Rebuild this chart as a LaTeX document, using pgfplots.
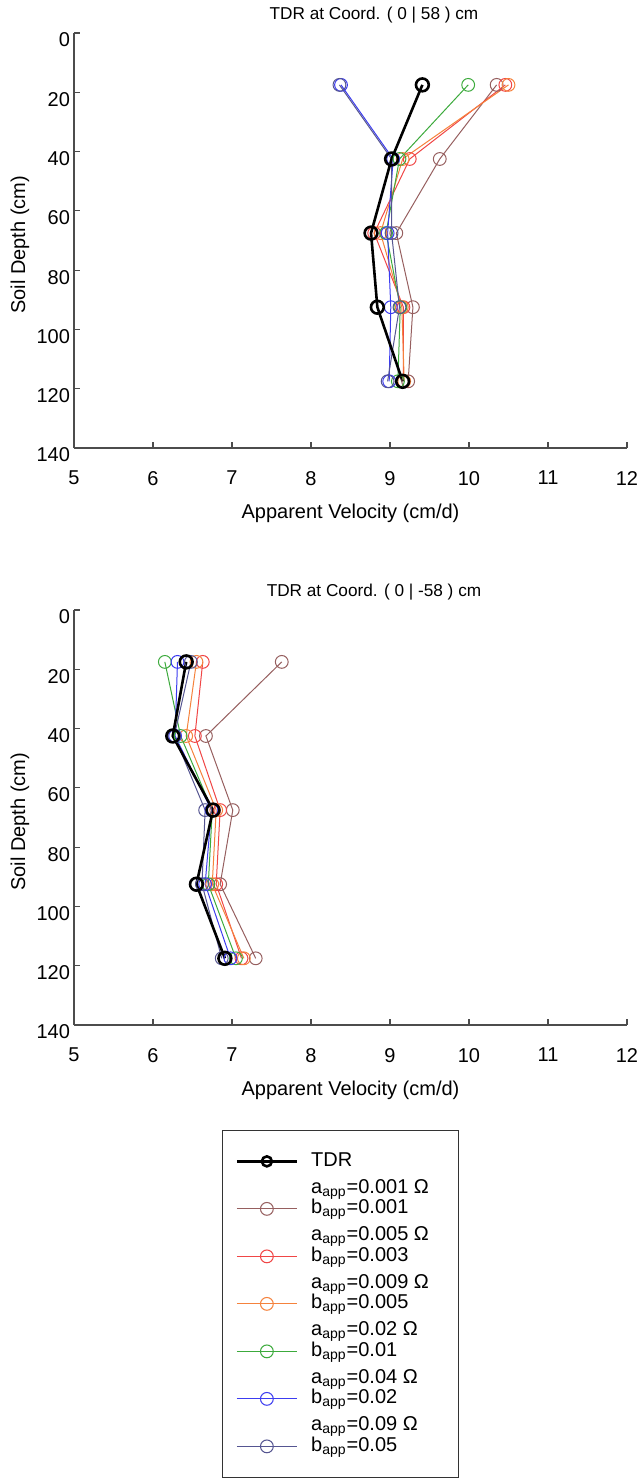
\documentclass[border=0pt]{standalone}
\usepackage{fontspec}
\setmainfont{Liberation Sans}
\usepackage{pgfplots}
\usepackage{pgfplotstable}
\pgfplotsset{compat=1.18}

\definecolor{brownc}{RGB}{150,95,95}
\definecolor{redc}{RGB}{240,70,70}
\definecolor{orangec}{RGB}{245,130,60}
\definecolor{greenc}{RGB}{60,170,60}
\definecolor{bluec}{RGB}{60,60,240}
\definecolor{purplec}{RGB}{85,85,145}

% depth, TDR, then a_app/b_app series 0.001, 0.005, 0.009, 0.02, 0.04, 0.09
\pgfplotstableread{
d     tdr   s1    s2    s3    s4    s5    s6
17.5  9.41  10.35 10.46 10.50 9.99  8.38  8.36
42.5  9.02  9.63  9.25  9.16  9.12  9.04  9.02
67.5  8.76  9.08  8.80  8.88  8.95  8.97  9.02
92.5  8.84  9.29  9.17  9.15  9.13  9.01  9.12
117.5 9.16  9.23  9.17  9.18  9.10  8.99  8.97
}\toptable

\pgfplotstableread{
d     tdr   s1    s2    s3    s4    s5    s6
17.5  6.42  7.63  6.63  6.55  6.15  6.31  6.48
42.5  6.25  6.67  6.53  6.42  6.35  6.28  6.27
67.5  6.76  7.01  6.85  6.80  6.75  6.74  6.66
92.5  6.55  6.85  6.80  6.75  6.70  6.66  6.62
117.5 6.91  7.30  7.12  7.15  7.05  6.98  6.87
}\bottable

\newcommand{\legtwo}[2]{\raisebox{1.5pt}[0pt][0pt]{\renewcommand{\arraystretch}{0.85}\begin{tabular}{@{}l@{}}\makebox[66pt][l]{#1}\\#2\end{tabular}}}

\pgfplotsset{
  every axis title shift=0pt,
  vel/.style={
    width=276.5pt, height=207.5pt, scale only axis,
    xmin=5, xmax=12, ymin=0, ymax=140, y dir=reverse,
    xtick={5,6,...,12}, ytick={0,20,...,140},
    axis x line*=bottom, axis y line*=left,
    axis line style={black!70, line width=0.6pt, -},
    tick style={black!70, line width=0.6pt},
    tick align=inside, major tick length=3pt,
    ticklabel style={font=\fontsize{10}{11}\selectfont},
    /pgf/number format/assume math mode=true,
    xticklabel style={yshift=-8pt},
    yticklabel style={yshift=-3.5pt, xshift=1.5pt},
    xlabel={Apparent Velocity (cm/d)},
    ylabel={Soil Depth (cm)},
    label style={font=\fontsize{10}{11}\selectfont},
    xlabel style={at={(axis description cs:0.5,-0.157)}, anchor=center},
    ylabel style={at={(axis description cs:-0.0977,0.49)}, anchor=center},
    title style={at={(axis description cs:0.5425,1.042)}, anchor=center, font=\fontsize{8.6}{9.5}\selectfont},
    clip=false,
  },
  tdr/.style={black, line width=1.3pt, mark=o, mark size=3.2pt},
  ser/.style={#1, line width=0.5pt, mark=o, mark size=3.2pt},
}

\begin{document}
\begin{tikzpicture}
\useasboundingbox (0,0) rectangle (319.5pt,-741pt);

\begin{axis}[vel, at={(37pt,-224pt)}, anchor=south west,
  title={TDR at Coord. ( 0 | 58 ) cm}]
  \addplot[ser=brownc]  table[x=s1, y=d] {\toptable};
  \addplot[ser=redc]    table[x=s2, y=d] {\toptable};
  \addplot[ser=orangec] table[x=s3, y=d] {\toptable};
  \addplot[ser=greenc]  table[x=s4, y=d] {\toptable};
  \addplot[ser=bluec]   table[x=s5, y=d] {\toptable};
  \addplot[ser=purplec] table[x=s6, y=d] {\toptable};
  \addplot[tdr]         table[x=tdr, y=d] {\toptable};
\end{axis}

\begin{axis}[vel, at={(37pt,-512.5pt)}, anchor=south west,
  title={TDR at Coord. ( 0 | -58 ) cm},
  legend image code/.code={\draw[mark repeat=2,mark phase=2,#1] plot coordinates {(0pt,0pt)(15pt,0pt)(30pt,0pt)};},
  legend cell align=left,
  legend style={at={(axis description cs:0.2676,-0.253)}, anchor=north west,
    draw=black!80, line width=0.6pt, inner xsep=6.5pt, inner ysep=3.5pt,
    row sep=0pt, column sep=5.5pt,
    nodes={align=left, minimum height=23.75pt, inner sep=1pt, font=\fontsize{10}{11.75}\selectfont}},
  ]
  \addlegendimage{tdr, mark size=2.5pt}
  \addlegendentry{\makebox[66pt][l]{TDR}}
  \addlegendimage{ser=brownc}
  \addlegendentry{\legtwo{a\textsubscript{app}=0.001 Ω}{b\textsubscript{app}=0.001}}
  \addlegendimage{ser=redc}
  \addlegendentry{\legtwo{a\textsubscript{app}=0.005 Ω}{b\textsubscript{app}=0.003}}
  \addlegendimage{ser=orangec}
  \addlegendentry{\legtwo{a\textsubscript{app}=0.009 Ω}{b\textsubscript{app}=0.005}}
  \addlegendimage{ser=greenc}
  \addlegendentry{\legtwo{a\textsubscript{app}=0.02 Ω}{b\textsubscript{app}=0.01}}
  \addlegendimage{ser=bluec}
  \addlegendentry{\legtwo{a\textsubscript{app}=0.04 Ω}{b\textsubscript{app}=0.02}}
  \addlegendimage{ser=purplec}
  \addlegendentry{\legtwo{a\textsubscript{app}=0.09 Ω}{b\textsubscript{app}=0.05}}

  \addplot[ser=brownc, forget plot]  table[x=s1, y=d] {\bottable};
  \addplot[ser=redc, forget plot]    table[x=s2, y=d] {\bottable};
  \addplot[ser=orangec, forget plot] table[x=s3, y=d] {\bottable};
  \addplot[ser=greenc, forget plot]  table[x=s4, y=d] {\bottable};
  \addplot[ser=bluec, forget plot]   table[x=s5, y=d] {\bottable};
  \addplot[ser=purplec, forget plot] table[x=s6, y=d] {\bottable};
  \addplot[tdr, forget plot]         table[x=tdr, y=d] {\bottable};
\end{axis}
\end{tikzpicture}
\end{document}
